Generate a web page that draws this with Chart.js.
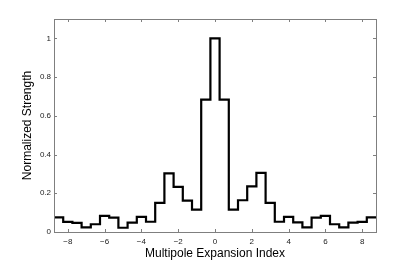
<!DOCTYPE html>
<html>
<head>
<meta charset="utf-8">
<script src="https://cdn.jsdelivr.net/npm/chart.js@4/dist/chart.umd.min.js"></script>
<style>
  html, body { margin: 0; padding: 0; background: #fff; }
  #wrap { width: 415px; height: 261px; }
</style>
</head>
<body>
<div id="wrap"><canvas id="chart" width="415" height="261"></canvas></div>
<script>
// multipole index (bin centres) and normalized strength
const indexValues = [-8.5, -8, -7.5, -7, -6.5, -6, -5.5, -5, -4.5, -4, -3.5, -3, -2.5, -2, -1.5, -1, -0.5,
    0, 0.5, 1, 1.5, 2, 2.5, 3, 3.5, 4, 4.5, 5, 5.5, 6, 6.5, 7, 7.5, 8, 8.5];
const strength = [0.076, 0.052, 0.047, 0.024, 0.040, 0.083, 0.074, 0.022, 0.048, 0.078, 0.053, 0.150,
    0.303, 0.233, 0.162, 0.116, 0.684, 1.0, 0.684, 0.116, 0.164, 0.236, 0.305, 0.150, 0.053, 0.078,
    0.050, 0.024, 0.074, 0.083, 0.040, 0.024, 0.048, 0.052, 0.076];
const binWidth = 0.5;
const xTicks = [-8, -6, -4, -2, 0, 2, 4, 6, 8];
const yTicks = [0, 0.2, 0.4, 0.6, 0.8, 1];

// step outline: each bin starts at its left edge, closing point at the last right edge
const stepPoints = indexValues.map((x, i) => ({ x: x - binWidth / 2, y: strength[i] }));
stepPoints.push({ x: indexValues[indexValues.length - 1] + binWidth / 2, y: strength[strength.length - 1] });

const axisColor = '#7f7f7f';

// box round the plot and inward ticks on all four sides
const boxPlugin = {
    id: 'box',
    afterDraw(chart) {
        const { ctx, chartArea: a, scales } = chart;
        ctx.save();
        ctx.strokeStyle = axisColor;
        ctx.lineWidth = 1;
        ctx.strokeRect(a.left + 0.5, a.top + 0.5, a.right - a.left, a.bottom - a.top);
        ctx.beginPath();
        xTicks.forEach(t => {
            const px = Math.round(scales.x.getPixelForValue(t)) + 0.5;
            ctx.moveTo(px, a.bottom); ctx.lineTo(px, a.bottom - 3);
            ctx.moveTo(px, a.top); ctx.lineTo(px, a.top + 3);
        });
        yTicks.forEach(t => {
            const py = Math.round(scales.y.getPixelForValue(t)) + 0.5;
            ctx.moveTo(a.left, py); ctx.lineTo(a.left + 3, py);
            ctx.moveTo(a.right, py); ctx.lineTo(a.right - 3, py);
        });
        ctx.stroke();
        ctx.restore();
    }
};

const ctx = document.getElementById('chart').getContext('2d');
new Chart(ctx, {
    type: 'line',
    data: {
        datasets: [{
            data: stepPoints,
            stepped: true,
            borderColor: '#000',
            borderWidth: 2.2,
            pointRadius: 0,
            fill: false
        }]
    },
    options: {
        responsive: false,
        animation: false,
        events: [],
        layout: { padding: { top: 19, right: 39, left: 20, bottom: 0 } },
        plugins: { legend: { display: false }, tooltip: { enabled: false } },
        scales: {
            x: {
                type: 'linear',
                min: -8.75,
                max: 8.75,
                afterBuildTicks: s => { s.ticks = xTicks.map(v => ({ value: v })); },
                afterFit: s => { s.height = 29; },
                grid: { display: false, drawTicks: false },
                border: { display: false },
                ticks: {
                    color: '#222',
                    font: { family: 'Liberation Sans', size: 8 },
                    padding: 5,
                    maxRotation: 0,
                    callback: v => String(v).replace('-', '\u2212')
                },
                title: {
                    display: true,
                    text: 'Multipole Expansion Index',
                    color: '#000',
                    font: { family: 'Liberation Sans', size: 12 },
                    padding: { top: 0, bottom: 0 }
                }
            },
            y: {
                min: 0,
                max: 1.1,
                afterBuildTicks: s => { s.ticks = yTicks.map(v => ({ value: v })); },
                afterFit: s => { s.width = 34; },
                grid: { display: false, drawTicks: false },
                border: { display: false },
                ticks: {
                    color: '#222',
                    font: { family: 'Liberation Sans', size: 8 },
                    padding: 3,
                    callback: v => String(v)
                },
                title: {
                    display: true,
                    text: 'Normalized Strength',
                    color: '#000',
                    font: { family: 'Liberation Sans', size: 12 },
                    padding: { top: 0, bottom: 0 }
                }
            }
        }
    },
    plugins: [boxPlugin]
});
</script>
</body>
</html>
